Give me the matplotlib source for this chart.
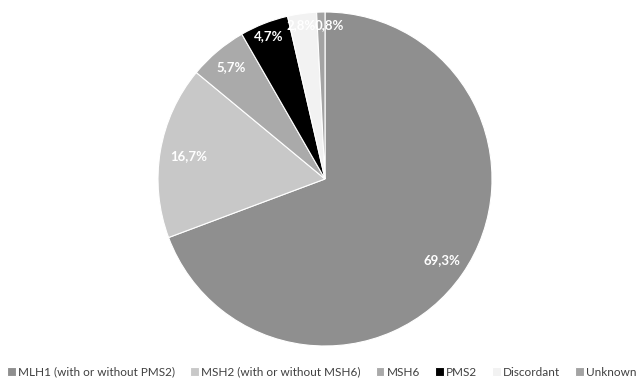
import matplotlib
matplotlib.use('Agg')
import numpy as np
import matplotlib.pyplot as plt

plt.rcParams['font.family'] = ['Lato', 'DejaVu Sans']

## Data
categories = ['MLH1 (with or without PMS2)', 'MSH2 (with or without MSH6)', 'MSH6',
              'PMS2', 'Discordant', 'Unknown']
values = [69.3, 16.7, 5.7, 4.7, 2.8, 0.8]
colors = ['#8f8f8f', '#c8c8c8', '#aaaaaa', '#000000', '#f2f2f2', '#a3a3a3']
label_dist = [0.85, 0.83, 0.875, 0.92, 0.93, 0.92]   # Excel "best fit" style
label_shift = [0, 0, 0, 0, 1.0, -2.9]                 # degrees, to keep small labels apart

## Plot
W, H = 644, 379
fig = plt.figure(figsize=(W / 100, H / 100), dpi=100)
cx, cy, r = 325, 179, 167
ax = fig.add_axes([(cx - r) / W, (H - cy - r) / H, 2 * r / W, 2 * r / H])

wedges, _ = ax.pie(values, colors=colors, startangle=90, counterclock=False,
                   wedgeprops=dict(edgecolor='white', linewidth=0.8))
ax.set_xlim(-1, 1)
ax.set_ylim(-1, 1)
ax.set_aspect('equal')
ax.axis('off')

for w, v, d, s in zip(wedges, values, label_dist, label_shift):
    a = np.deg2rad((w.theta1 + w.theta2) / 2 + s)
    ax.text(d * np.cos(a), d * np.sin(a), f'{v:.1f}'.replace('.', ',') + '%',
            ha='center', va='center', color='white', fontsize=9.5, fontweight='bold')

fig.legend(wedges, categories, loc='center', bbox_to_anchor=(0.5, 1 - 372 / H),
           ncol=6, frameon=False, fontsize=8.5, handlelength=0.75, handleheight=0.75,
           handletextpad=0.2, columnspacing=1.25, borderaxespad=0, labelcolor='#404040')

fig.savefig('out.png', dpi=100)
